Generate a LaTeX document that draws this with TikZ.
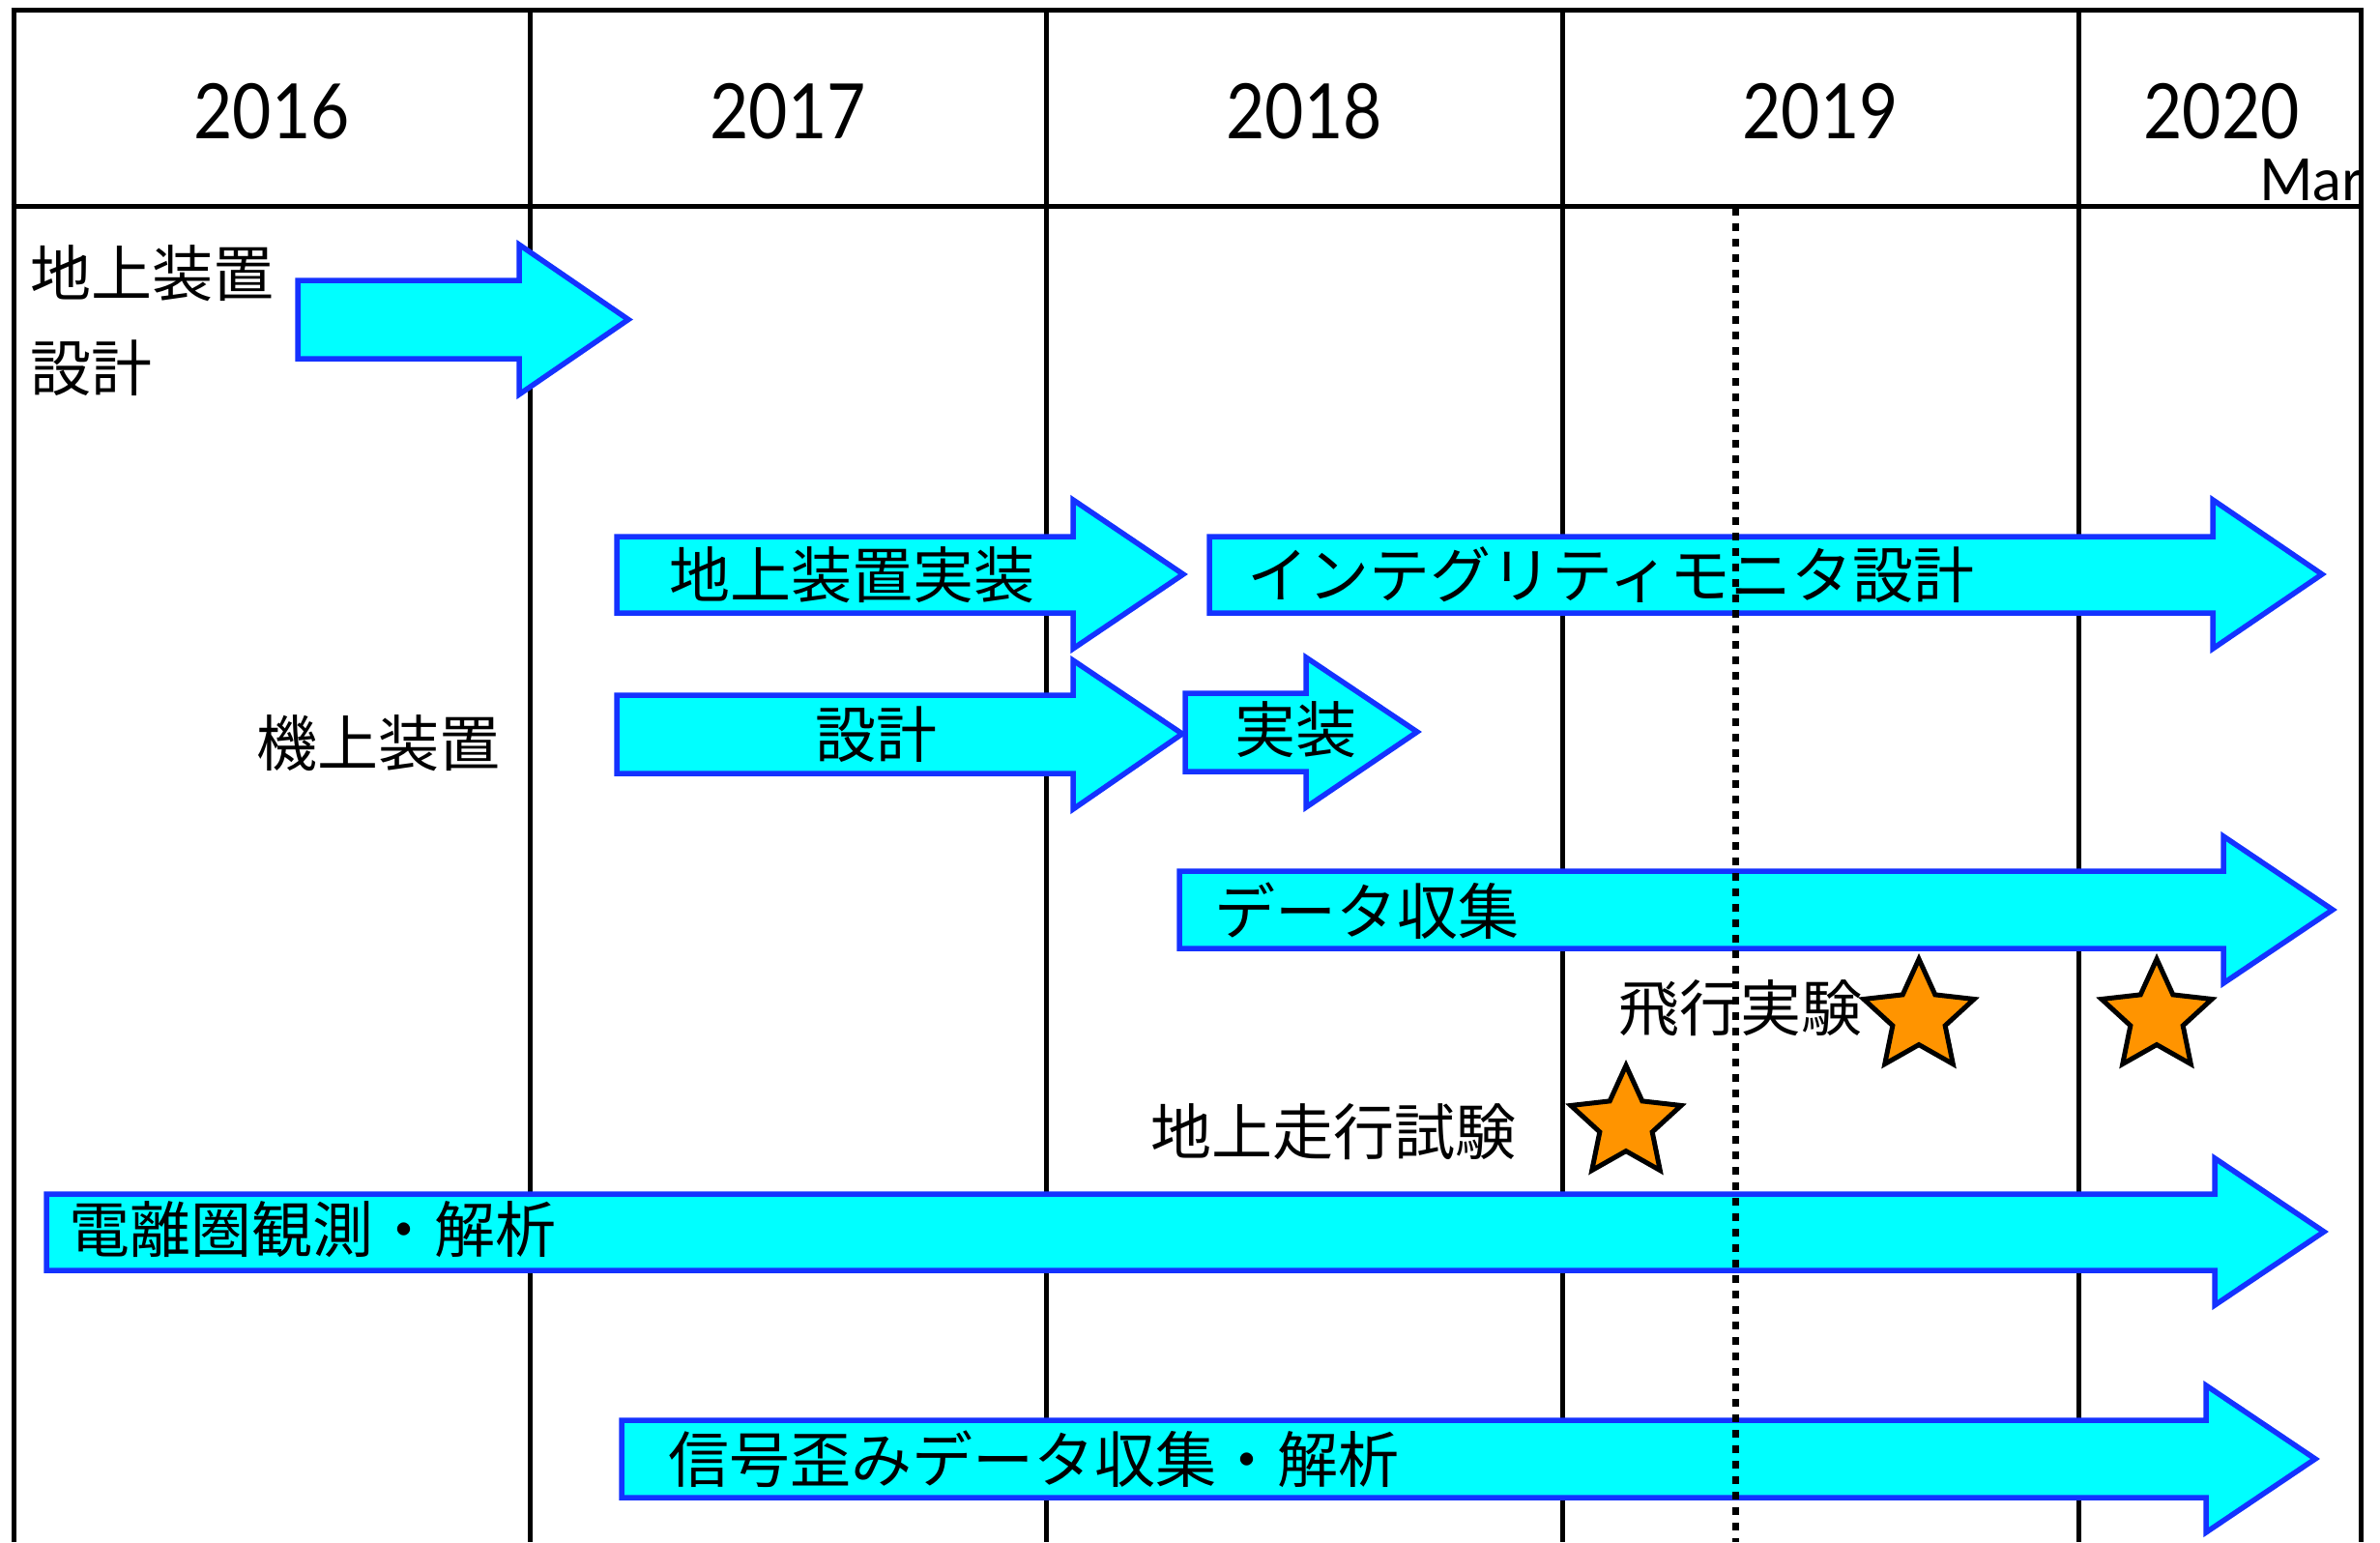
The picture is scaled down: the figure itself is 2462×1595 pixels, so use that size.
\documentclass[tikz,border=0pt]{standalone}
\usepackage{fontspec}
\setmainfont{Lato}
\newfontfamily\yearfont[FakeStretch=0.88]{Lato}
\newfontfamily\jpfont{Noto Sans CJK JP}
\usetikzlibrary{shapes.geometric}
\definecolor{arrowfill}{RGB}{0,255,255}
\definecolor{arrowline}{RGB}{20,50,255}
\definecolor{starfill}{RGB}{255,148,0}
\tikzset{
 gridline/.style={line width=5pt, draw=black},
 dotline/.style={line width=7pt, draw=black, dash pattern=on 8pt off 8pt},
 blockarrow/.style={fill=arrowfill, draw=arrowline, line width=5.5pt, line join=miter},
 jp/.style={font=\jpfont\fontsize{63}{70}\selectfont, inner sep=0pt},
 year/.style={font=\yearfont\fontsize{79}{82}\selectfont, inner sep=0pt},
 monthlab/.style={font=\fontsize{60}{64}\selectfont, inner sep=0pt},
 orangestar/.style={star, star points=5, star point ratio=2.1, minimum size=120pt, inner sep=0pt, fill=starfill, draw=black, line width=5pt},
}
\newcommand\garrow[8]{%
 \draw[blockarrow] (#1,#2) -- (#4,#2) -- (#4,#5) -- (#7,#8) -- (#4,#6) -- (#4,#3) -- (#1,#3) -- cycle;}
\begin{document}
\begin{tikzpicture}[x=1pt,y=-1pt]
\useasboundingbox (0,0) rectangle (2462,1595);
% grid
\foreach \gx in {14,548,1082,1616,2150,2442}{
 \draw[gridline] (\gx,11) -- (\gx,1595);
}
\draw[gridline] (11.5,11) -- (2444.5,11);
\draw[gridline] (11.5,213) -- (2444.5,213);
% year labels
\node[year] (y2016) at (281,115) {2016};
\node[year] (y2017) at (815,115) {2017};
\node[year] (y2018) at (1349,115) {2018};
\node[year] (y2019) at (1883,115) {2019};
\node[year] (y2020) at (2298,115) {2020};
\node[monthlab, anchor=base east] (mar) at (2444,207) {Mar};
% arrows
\garrow{308}{290}{371}{537}{253}{408}{650}{330.5}
\garrow{638}{555}{634}{1110}{517}{671}{1224}{594}
\garrow{1251}{555}{634}{2289}{517}{671}{2402}{594}
\garrow{638}{719}{800}{1110}{683}{837}{1223}{759}
\garrow{1226}{717}{798}{1351}{680}{835}{1466}{757}
\garrow{1220}{901}{981}{2300}{865}{1017}{2413}{941}
\garrow{48}{1235}{1314}{2291}{1198}{1350}{2404}{1274}
\garrow{643}{1469}{1549}{2282}{1433}{1585}{2395}{1509}
% dotted line
\draw[dotline] (1795,215) -- (1795,1595);
% texts
\node[jp, anchor=west] (gd1) at (31,283) {地上装置};
\node[jp, anchor=west] (gd2) at (31,381) {設計};
\node[jp, anchor=east] (kijo) at (518,769) {機上装置};
\node[jp] (gimpl) at (881,595) {地上装置実装};
\node[jp, anchor=west] (integ) at (1290,595) {インテグリティモニタ設計};
\node[jp] (sekkei) at (906,760) {設計};
\node[jp] (jisso) at (1340,755) {実装};
\node[jp, anchor=west] (data) at (1256,942) {データ収集};
\node[jp, anchor=west] (denri) at (71,1272) {電離圏観測・解析};
\node[jp, anchor=west] (shingo) at (691,1509) {信号歪みデータ収集・解析};
\node[jp, anchor=west] (hiko) at (1674,1043) {飛行実験};
\node[jp, anchor=west] (chijo) at (1190,1171) {地上走行試験};
% stars
\node[orangestar] (s1) at (1682,1162) {};
\node[orangestar] (s2) at (1985,1052) {};
\node[orangestar] (s3) at (2231,1052) {};
\end{tikzpicture}
\end{document}
